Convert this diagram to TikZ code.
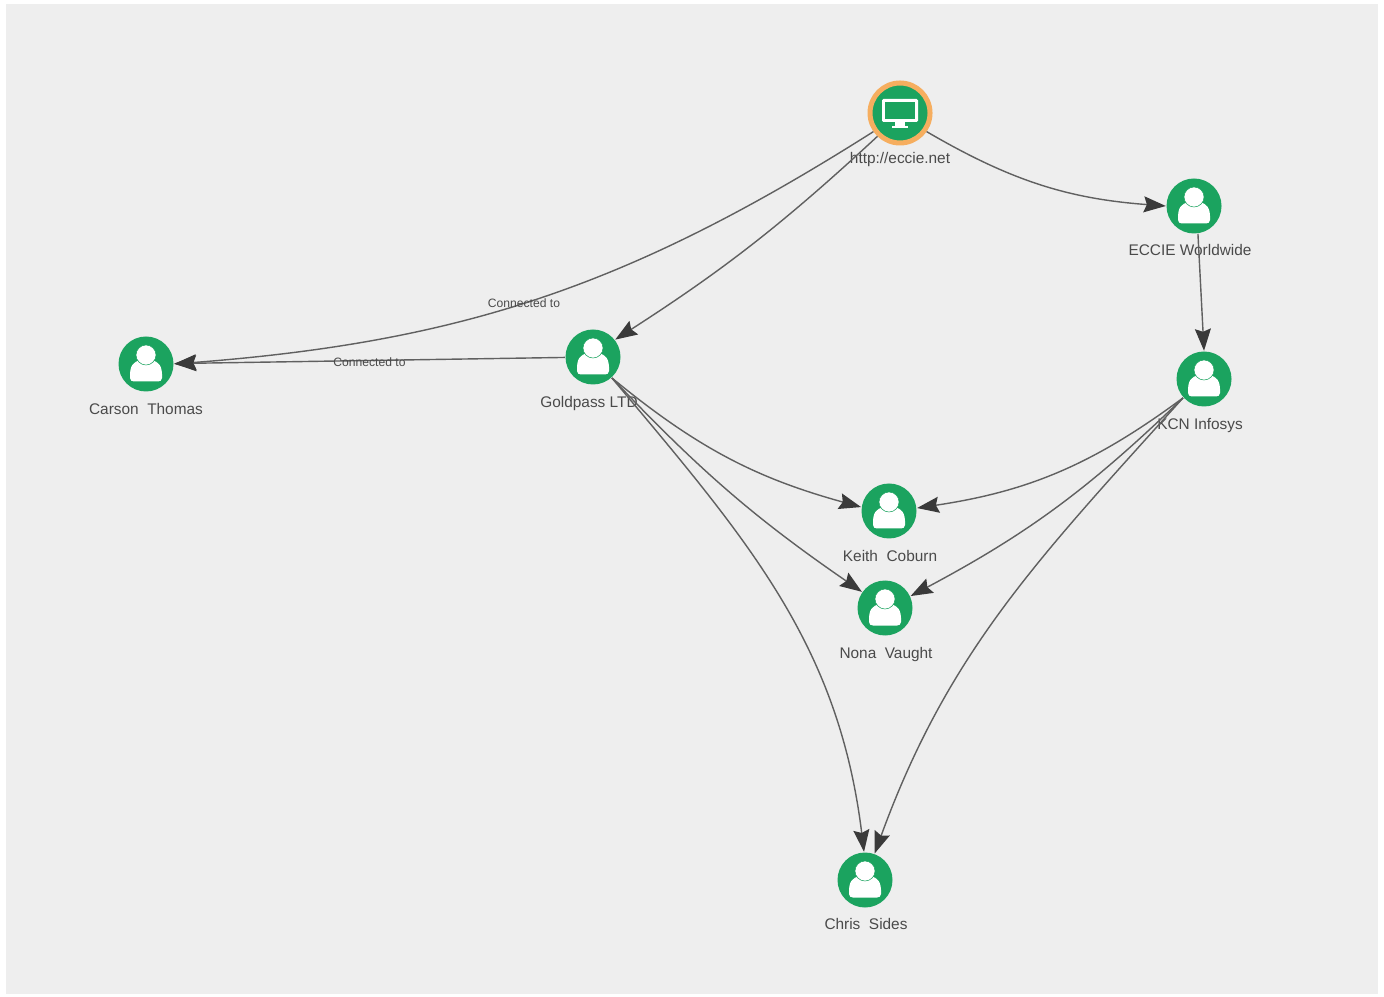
\documentclass[tikz,border=0pt]{standalone}
\usepackage{fontspec}
\setmainfont{Liberation Sans}
\usetikzlibrary{arrows.meta}

\definecolor{panelgray}{HTML}{EEEEEE}
\definecolor{nodegreen}{HTML}{1BA35F}
\definecolor{ringorange}{HTML}{F6AE5F}
\definecolor{edgegray}{HTML}{606060}
\definecolor{tipgray}{HTML}{3A3A3A}
\definecolor{textgray}{HTML}{4A4A4A}

\tikzset{
  usernode/.style = {circle, fill = nodegreen, minimum size = 0.55cm, inner sep = 0pt},
  webnode/.style = {circle, fill = nodegreen, draw = ringorange, line width = 0.05cm, minimum size = 0.6cm, inner sep = 0pt},
  nodelabel/.style = {text = textgray, font = \fontsize{4.38}{5}\selectfont, inner sep = 0pt},
  edgelabel/.style = {text = textgray, font = \fontsize{3.45}{4}\selectfont, inner sep = 0pt},
  link/.style = {draw = edgegray, line width = 0.4pt, -{Stealth[length = 0.22cm, width = 0.16cm, inset = 0.03cm, color = tipgray]}}
}

\begin{document}
\begin{tikzpicture}
\useasboundingbox (0,0) rectangle (13.84,9.96);
\fill[panelgray] (0.06,0.02) rectangle (13.78,9.92);

\node[webnode] (web) at (9.00,8.83) {};
\node[usernode] (eccie) at (11.94,7.90) {};
\node[usernode] (kcn) at (12.04,6.17) {};
\node[usernode] (gold) at (5.93,6.39) {};
\node[usernode] (carson) at (1.46,6.32) {};
\node[usernode] (keith) at (8.89,4.85) {};
\node[usernode] (nona) at (8.85,3.88) {};
\node[usernode] (chris) at (8.65,1.16) {};

\node[nodelabel] (weblabel) at (9.00,8.36) {http://eccie.net};
\node[nodelabel] (eccielabel) at (11.90,7.46) {ECCIE Worldwide};
\node[nodelabel] (kcnlabel) at (12.00,5.70) {KCN Infosys};
\node[nodelabel] (goldlabel) at (5.89,5.92) {Goldpass LTD};
\node[nodelabel] (carsonlabel) at (1.46,5.87) {Carson\ \ Thomas};
\node[nodelabel] (keithlabel) at (8.90,4.40) {Keith\ \ Coburn};
\node[nodelabel] (nonalabel) at (8.86,3.41) {Nona\ \ Vaught};
\node[nodelabel] (chrislabel) at (8.66,0.72) {Chris\ \ Sides};

% links
\draw[link] (web.215) to[bend left = 14] node[edgelabel, pos = 0.525] (webcarson) {Connected to} (carson.0);
\draw[link] (web.226) to[bend left = 5] (gold.38);
\draw[link] (web.-35) to[bend right = 13] (eccie.180);
\draw[link] (eccie.-82) -- (kcn.90);
\draw[link] (gold) -- node[edgelabel, yshift = -0.02cm] (goldcarson) {Connected to} (carson);
\draw[link] (gold.-48) to[bend right = 12] (keith.172);
\draw[link] (gold.-48) to[bend right = 6] (nona.145);
\draw[link] (gold.-48) to[out = -50, in = 97] (chris.92);
\draw[link] (kcn.222) to[bend left = 14] (keith.6);
\draw[link] (kcn.222) to[bend left = 8] (nona.25);
\draw[link] (kcn.222) to[out = 228, in = 70] (chris.70);

% person icons
\foreach \who in {eccie, kcn, gold, carson, keith, nona, chris} {
  \fill[white, shift = {(\who)}] (-0.16,-0.14) .. controls (-0.165,-0.02) and (-0.13,0.03) .. (-0.05,0.035) -- (0.05,0.035)
    .. controls (0.13,0.03) and (0.165,-0.02) .. (0.16,-0.14)
    .. controls (0.16,-0.165) and (0.14,-0.175) .. (0.12,-0.175) -- (-0.12,-0.175)
    .. controls (-0.14,-0.175) and (-0.16,-0.165) .. cycle;
  \draw[fill = white, draw = nodegreen, line width = 0.15pt, shift = {(\who)}] (0,0.09) circle (0.1);
}

% monitor icon
\fill[white, rounded corners = 0.4pt] (8.82,8.74) rectangle (9.18,8.97);
\fill[nodegreen] (8.85,8.77) rectangle (9.15,8.94);
\fill[white] (8.95,8.69) rectangle (9.05,8.74);
\fill[white] (8.92,8.68) rectangle (9.08,8.70);
\end{tikzpicture}
\end{document}
